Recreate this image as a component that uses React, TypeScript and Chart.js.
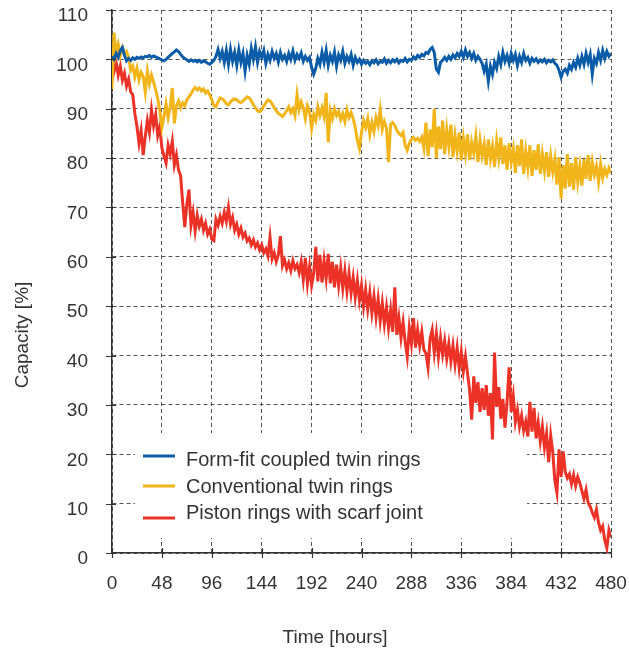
import React, { useEffect, useRef } from "react";
import { Chart, registerables } from "chart.js";

Chart.register(...registerables);

// Sampling grid: one reading every 2 hours, 0..480 h
const HOURS_STEP = 2;
const HOURS: number[] = Array.from({ length: 241 }, (_, i) => i * HOURS_STEP);

const X_TICKS = [0, 48, 96, 144, 192, 240, 288, 336, 384, 432, 480];
const Y_TICKS = [0, 10, 20, 30, 40, 50, 60, 70, 80, 90, 100, 110];

const SERIES_NAMES = [
  "Form-fit coupled twin rings",
  "Conventional twin rings",
  "Piston rings with scarf joint",
];

const FORM_FIT = [
  100.6, 100.0, 101.2, 100.4, 101.8, 102.4, 100.8, 99.7, 100.2, 99.8,
  100.3, 100.0, 100.4, 100.2, 100.5, 100.3, 100.6, 100.5, 100.8, 100.4,
  100.7, 100.5, 100.3, 100.1, 99.9, 99.7, 100.0, 100.4, 100.8, 101.2,
  101.5, 101.9, 101.6, 101.0, 100.5, 100.2, 99.9, 99.6, 99.9, 99.6,
  99.8, 99.5, 99.8, 99.4, 99.7, 99.5, 99.2, 99.0, 99.4, 99.8,
  100.6, 102.0, 100.2, 101.6, 99.4, 101.8, 99.0, 102.0, 99.6, 101.4,
  98.8, 101.9, 99.4, 101.2, 97.6, 100.8, 99.0, 102.2, 100.0, 102.5,
  99.4, 101.6, 100.4, 101.8, 99.2, 101.0, 99.8, 101.6, 100.2, 101.2,
  99.5, 101.4, 100.0, 100.8, 99.6, 101.2, 100.0, 101.7, 99.8, 101.0,
  100.2, 101.3, 99.6, 100.6, 99.8, 100.4, 98.4, 97.0, 98.2, 100.2,
  99.0, 101.4, 99.4, 101.8, 98.8, 100.8, 99.6, 101.5, 98.6, 100.9,
  99.8, 101.6, 99.2, 100.6, 99.6, 101.0, 98.8, 100.4, 99.4, 100.0,
  99.0, 99.8, 99.2, 99.6, 98.9, 99.7, 99.3, 99.9, 99.1, 99.6,
  99.4, 100.1, 99.2, 99.8, 99.3, 99.9, 99.5, 100.0, 99.3, 99.8,
  99.6, 100.2, 99.5, 100.0, 99.8, 100.5, 100.1, 100.8, 100.4, 101.0,
  100.7, 101.4, 101.2, 102.0, 102.4, 101.4, 98.0, 97.4, 99.4, 99.8,
  100.4, 99.8, 100.6, 100.0, 100.9, 100.3, 101.2, 100.6, 101.6, 100.4,
  101.9, 100.6, 101.4, 100.2, 101.2, 99.8, 100.6, 100.0, 99.2, 97.6,
  99.0, 95.6, 98.6, 97.0, 99.4, 98.2, 100.6, 99.0, 101.4, 99.6,
  100.8, 99.2, 101.2, 99.8, 101.0, 98.8, 100.6, 99.4, 101.2, 99.8,
  100.4, 99.2, 100.2, 99.6, 100.1, 99.4, 99.9, 99.5, 100.0, 99.3,
  99.8, 99.5, 99.9, 99.2, 98.8, 97.8, 96.4, 97.6, 98.0, 97.2,
  98.8, 98.0, 99.4, 98.4, 100.2, 98.8, 100.6, 99.0, 101.2, 99.4,
  101.0, 97.0, 100.2, 99.2, 101.4, 99.8, 101.8, 100.2, 101.6, 100.6,
  101.2,
];

const CONVENTIONAL = [
  94.0, 105.4, 101.0, 103.0, 100.8, 102.4, 101.2, 101.6, 100.4, 97.8,
  98.6, 96.4, 98.2, 95.8, 97.4, 96.6, 93.4, 97.6, 95.0, 96.8,
  95.4, 93.8, 92.0, 89.6, 86.2, 88.4, 91.0, 88.2, 90.4, 94.2,
  87.0, 90.6, 91.6, 90.2, 91.2, 90.6, 91.8, 92.4, 93.0, 93.8,
  94.3, 93.8, 94.2, 93.6, 94.0, 93.2, 93.6, 92.8, 91.8, 90.6,
  90.4, 91.4, 92.2, 92.0, 91.6, 91.0, 90.8, 91.4, 91.8, 92.0,
  91.8, 91.4, 91.2, 91.6, 92.0, 92.4, 92.2, 91.6, 90.8, 90.2,
  89.6, 89.4, 89.8, 90.6, 91.2, 91.8, 91.6, 91.0, 90.2, 89.6,
  89.0, 88.8, 88.4, 88.9, 89.6, 90.4, 89.2, 90.0, 88.6, 92.8,
  89.8, 91.4, 90.2, 88.0, 90.6, 89.4, 86.0, 88.8, 87.6, 90.4,
  88.6, 90.2, 88.4, 93.2, 83.2, 89.6, 88.0, 90.0, 88.6, 89.4,
  87.8, 89.0, 87.4, 89.8, 88.2, 89.2, 88.0, 86.2, 83.6, 82.0,
  85.2, 87.6, 86.2, 88.0, 84.8, 87.2, 85.4, 88.2, 86.6, 89.8,
  85.8, 87.4, 86.2, 79.2, 86.8, 87.2, 86.6, 85.6, 85.0, 84.6,
  85.2, 82.6, 81.6, 83.0, 83.8, 84.2, 83.6, 84.0, 83.4, 84.2,
  82.0, 87.2, 80.4, 85.8, 82.2, 90.0, 80.0, 86.4, 81.8, 87.6,
  80.8, 85.8, 82.4, 86.8, 80.2, 84.6, 81.4, 85.2, 79.6, 84.0,
  80.8, 84.8, 79.6, 83.2, 81.0, 84.4, 79.2, 83.6, 80.4, 82.8,
  78.6, 83.8, 79.8, 82.4, 78.2, 83.4, 80.0, 84.2, 78.8, 82.6,
  77.6, 83.0, 79.2, 81.8, 77.0, 82.6, 78.4, 83.8, 76.8, 81.4,
  78.0, 82.6, 76.4, 81.6, 77.6, 82.8, 76.8, 80.8, 77.4, 81.2,
  76.2, 80.4, 77.2, 79.8, 74.6, 80.2, 71.8, 78.6, 73.8, 80.8,
  74.2, 79.0, 73.6, 80.2, 75.2, 78.4, 74.4, 79.8, 75.8, 80.6,
  75.4, 79.2, 76.6, 78.4, 75.2, 78.8, 76.0, 77.8, 76.6, 78.0,
  77.0,
];

const SCARF_JOINT = [
  100.0, 97.6, 99.4, 96.8, 98.6, 95.8, 97.2, 94.6, 96.0, 93.4,
  92.8, 89.0, 86.4, 83.0, 85.6, 80.6, 84.4, 87.6, 85.2, 89.8,
  86.6, 88.8, 84.6, 86.4, 82.0, 80.4, 79.0, 82.6, 80.8, 83.4,
  78.6, 80.6, 77.6, 76.4, 71.0, 66.0, 70.6, 73.6, 66.4, 69.0,
  65.2, 68.4, 66.2, 67.6, 65.4, 66.8, 64.6, 65.6, 63.6, 63.3,
  67.6, 66.4, 68.2, 66.8, 69.0, 67.2, 70.0, 66.6, 68.0, 65.4,
  66.6, 64.6, 65.8, 64.0, 64.8, 63.2, 63.8, 62.4, 63.4, 62.0,
  62.8, 61.4, 62.4, 60.8, 61.6, 60.2, 64.0, 59.6, 60.8, 59.0,
  60.4, 64.2, 58.2, 59.4, 57.6, 58.8, 57.2, 59.2, 57.6, 58.4,
  56.8, 59.0, 55.4, 59.8, 54.6, 58.0, 54.2, 56.6, 62.0, 55.0,
  60.4, 54.8, 59.2, 55.6, 60.6, 54.6, 59.0, 53.8, 58.4, 54.2,
  57.8, 53.6, 57.2, 53.0, 56.6, 52.6, 55.8, 51.8, 55.2, 51.2,
  54.2, 50.0, 53.4, 49.4, 52.8, 48.6, 52.0, 47.8, 51.4, 47.0,
  50.6, 46.4, 49.8, 45.6, 49.2, 44.8, 53.8, 44.2, 47.6, 43.6,
  46.8, 42.8, 39.8, 45.6, 42.4, 47.6, 41.6, 45.2, 42.0, 44.8,
  41.2, 40.4, 37.6, 43.4, 45.2, 40.6, 44.4, 39.8, 43.6, 40.2,
  43.0, 39.4, 42.4, 38.8, 42.0, 38.2, 41.6, 37.4, 40.8, 36.8,
  39.8, 36.4, 33.0, 27.0, 35.8, 30.4, 34.6, 28.6, 33.4, 29.0,
  34.0, 27.8, 32.4, 23.0, 40.6, 29.6, 33.6, 27.2, 31.2, 25.4,
  30.6, 37.6, 28.6, 31.8, 26.6, 29.0, 25.6, 27.8, 24.8, 26.6,
  23.6, 30.6, 24.6, 29.4, 23.2, 26.4, 22.6, 25.6, 21.4, 24.2,
  18.4, 23.8, 20.4, 14.6, 12.2, 21.0, 15.4, 20.6, 16.4, 15.2,
  16.0, 14.0, 15.8, 13.6, 15.4, 14.2, 12.6, 11.0, 12.8, 10.2,
  9.4, 8.2, 7.2, 8.8, 6.2, 4.6, 5.4, 2.6, 1.0, 4.6,
  3.2,
];

const COLORS = ["#0a5ca8", "#f2b519", "#ec3126"];
const TEXT_COLOR = "#333333";
const FONT_FAMILY = "'Liberation Sans', Arial, sans-serif";

const toPoints = (vals: number[]) => vals.map((v, i) => ({ x: HOURS[i], y: v }));

const overlayPlugin = {
  id: "overlay",
  beforeDatasetsDraw(chart: any) {
    const ctx = chart.ctx;
    ctx.save();
    ctx.fillStyle = "#ffffff";
    ctx.fillRect(135, 433, 392, 105);
    ctx.restore();
  },
  afterDatasetsDraw(chart: any) {
    const ctx = chart.ctx;
    const xs = chart.scales.x;
    const ys = chart.scales.y;
    ctx.save();
    // tick marks crossing the axes
    ctx.strokeStyle = "#333333";
    ctx.lineWidth = 1.2;
    const area = chart.chartArea;
    ctx.beginPath();
    X_TICKS.forEach((v) => {
      const px = Math.round(xs.getPixelForValue(v)) + 0.5;
      ctx.moveTo(px, area.bottom - 5);
      ctx.lineTo(px, area.bottom + 5);
    });
    Y_TICKS.forEach((v) => {
      const py = Math.round(ys.getPixelForValue(v)) + 0.5;
      ctx.moveTo(area.left - 6, py);
      ctx.lineTo(area.left + 4, py);
    });
    ctx.stroke();

    const lineYs = [456, 486, 518];
    const textYs = [466, 493, 519];
    ctx.font = `20px ${FONT_FAMILY}`;
    ctx.textAlign = "left";
    ctx.textBaseline = "alphabetic";
    SERIES_NAMES.forEach((name, i) => {
      ctx.strokeStyle = COLORS[i];
      ctx.lineWidth = 3;
      ctx.beginPath();
      ctx.moveTo(143, lineYs[i]);
      ctx.lineTo(175, lineYs[i]);
      ctx.stroke();
      ctx.fillStyle = TEXT_COLOR;
      ctx.fillText(name, 186, textYs[i]);
    });
    // axis titles
    ctx.font = `19px ${FONT_FAMILY}`;
    ctx.textAlign = "center";
    ctx.fillStyle = TEXT_COLOR;
    ctx.fillText("Time [hours]", 335, 643);
    ctx.translate(28, 335);
    ctx.rotate(-Math.PI / 2);
    ctx.fillText("Capacity [%]", 0, 0);
    ctx.restore();
  },
};

export default function App() {
  const canvasRef = useRef<HTMLCanvasElement | null>(null);

  useEffect(() => {
    if (!canvasRef.current) return;
    const series = [FORM_FIT, CONVENTIONAL, SCARF_JOINT];
    const chart = new Chart(canvasRef.current, {
      type: "line",
      data: {
        datasets: series.map((vals, i) => ({
          label: SERIES_NAMES[i],
          data: toPoints(vals),
          borderColor: COLORS[i],
          backgroundColor: COLORS[i],
          borderWidth: 3,
          pointRadius: 0,
          tension: 0,
          fill: false,
        })),
      },
      options: {
        responsive: false,
        animation: false,
        events: [],
        layout: { padding: { left: 0, right: 18, top: 10, bottom: 0 } },
        plugins: {
          legend: { display: false },
          tooltip: { enabled: false },
        },
        scales: {
          x: {
            type: "linear",
            min: 0,
            max: 480,
            afterFit: (scale: any) => {
              scale.height = 98;
            },
            afterBuildTicks: (scale: any) => {
              scale.ticks = X_TICKS.map((v) => ({ value: v }));
            },
            ticks: {
              color: TEXT_COLOR,
              font: { family: FONT_FAMILY, size: 19, lineHeight: 1 },
              padding: 0,
              maxRotation: 0,
              autoSkip: false,
            },
            grid: {
              color: "#555555",
              lineWidth: 1,
              tickColor: "rgba(0,0,0,0)",
              tickLength: 21,
            },
            border: { display: true, color: "#333333", width: 1.5, dash: [4, 3] },
          },
          y: {
            type: "linear",
            min: 0,
            max: 110,
            afterFit: (scale: any) => {
              scale.width = 112;
            },
            afterBuildTicks: (scale: any) => {
              scale.ticks = Y_TICKS.map((v) => ({ value: v }));
            },
            ticks: {
              color: TEXT_COLOR,
              font: { family: FONT_FAMILY, size: 19, lineHeight: 1 },
              padding: 0,
              labelOffset: 6,
              autoSkip: false,
            },
            grid: {
              color: "#555555",
              lineWidth: 1,
              tickColor: "rgba(0,0,0,0)",
              tickLength: 24,
            },
            border: { display: true, color: "#333333", width: 1.5, dash: [4, 3] },
          },
        },
      },
      plugins: [overlayPlugin],
    });
    return () => chart.destroy();
  }, []);

  return (
    <div style={{ position: "fixed", left: 0, top: 0, width: 629, height: 651, background: "#ffffff" }}>
      <canvas ref={canvasRef} width={629} height={651} style={{ display: "block" }} />
    </div>
  );
}
